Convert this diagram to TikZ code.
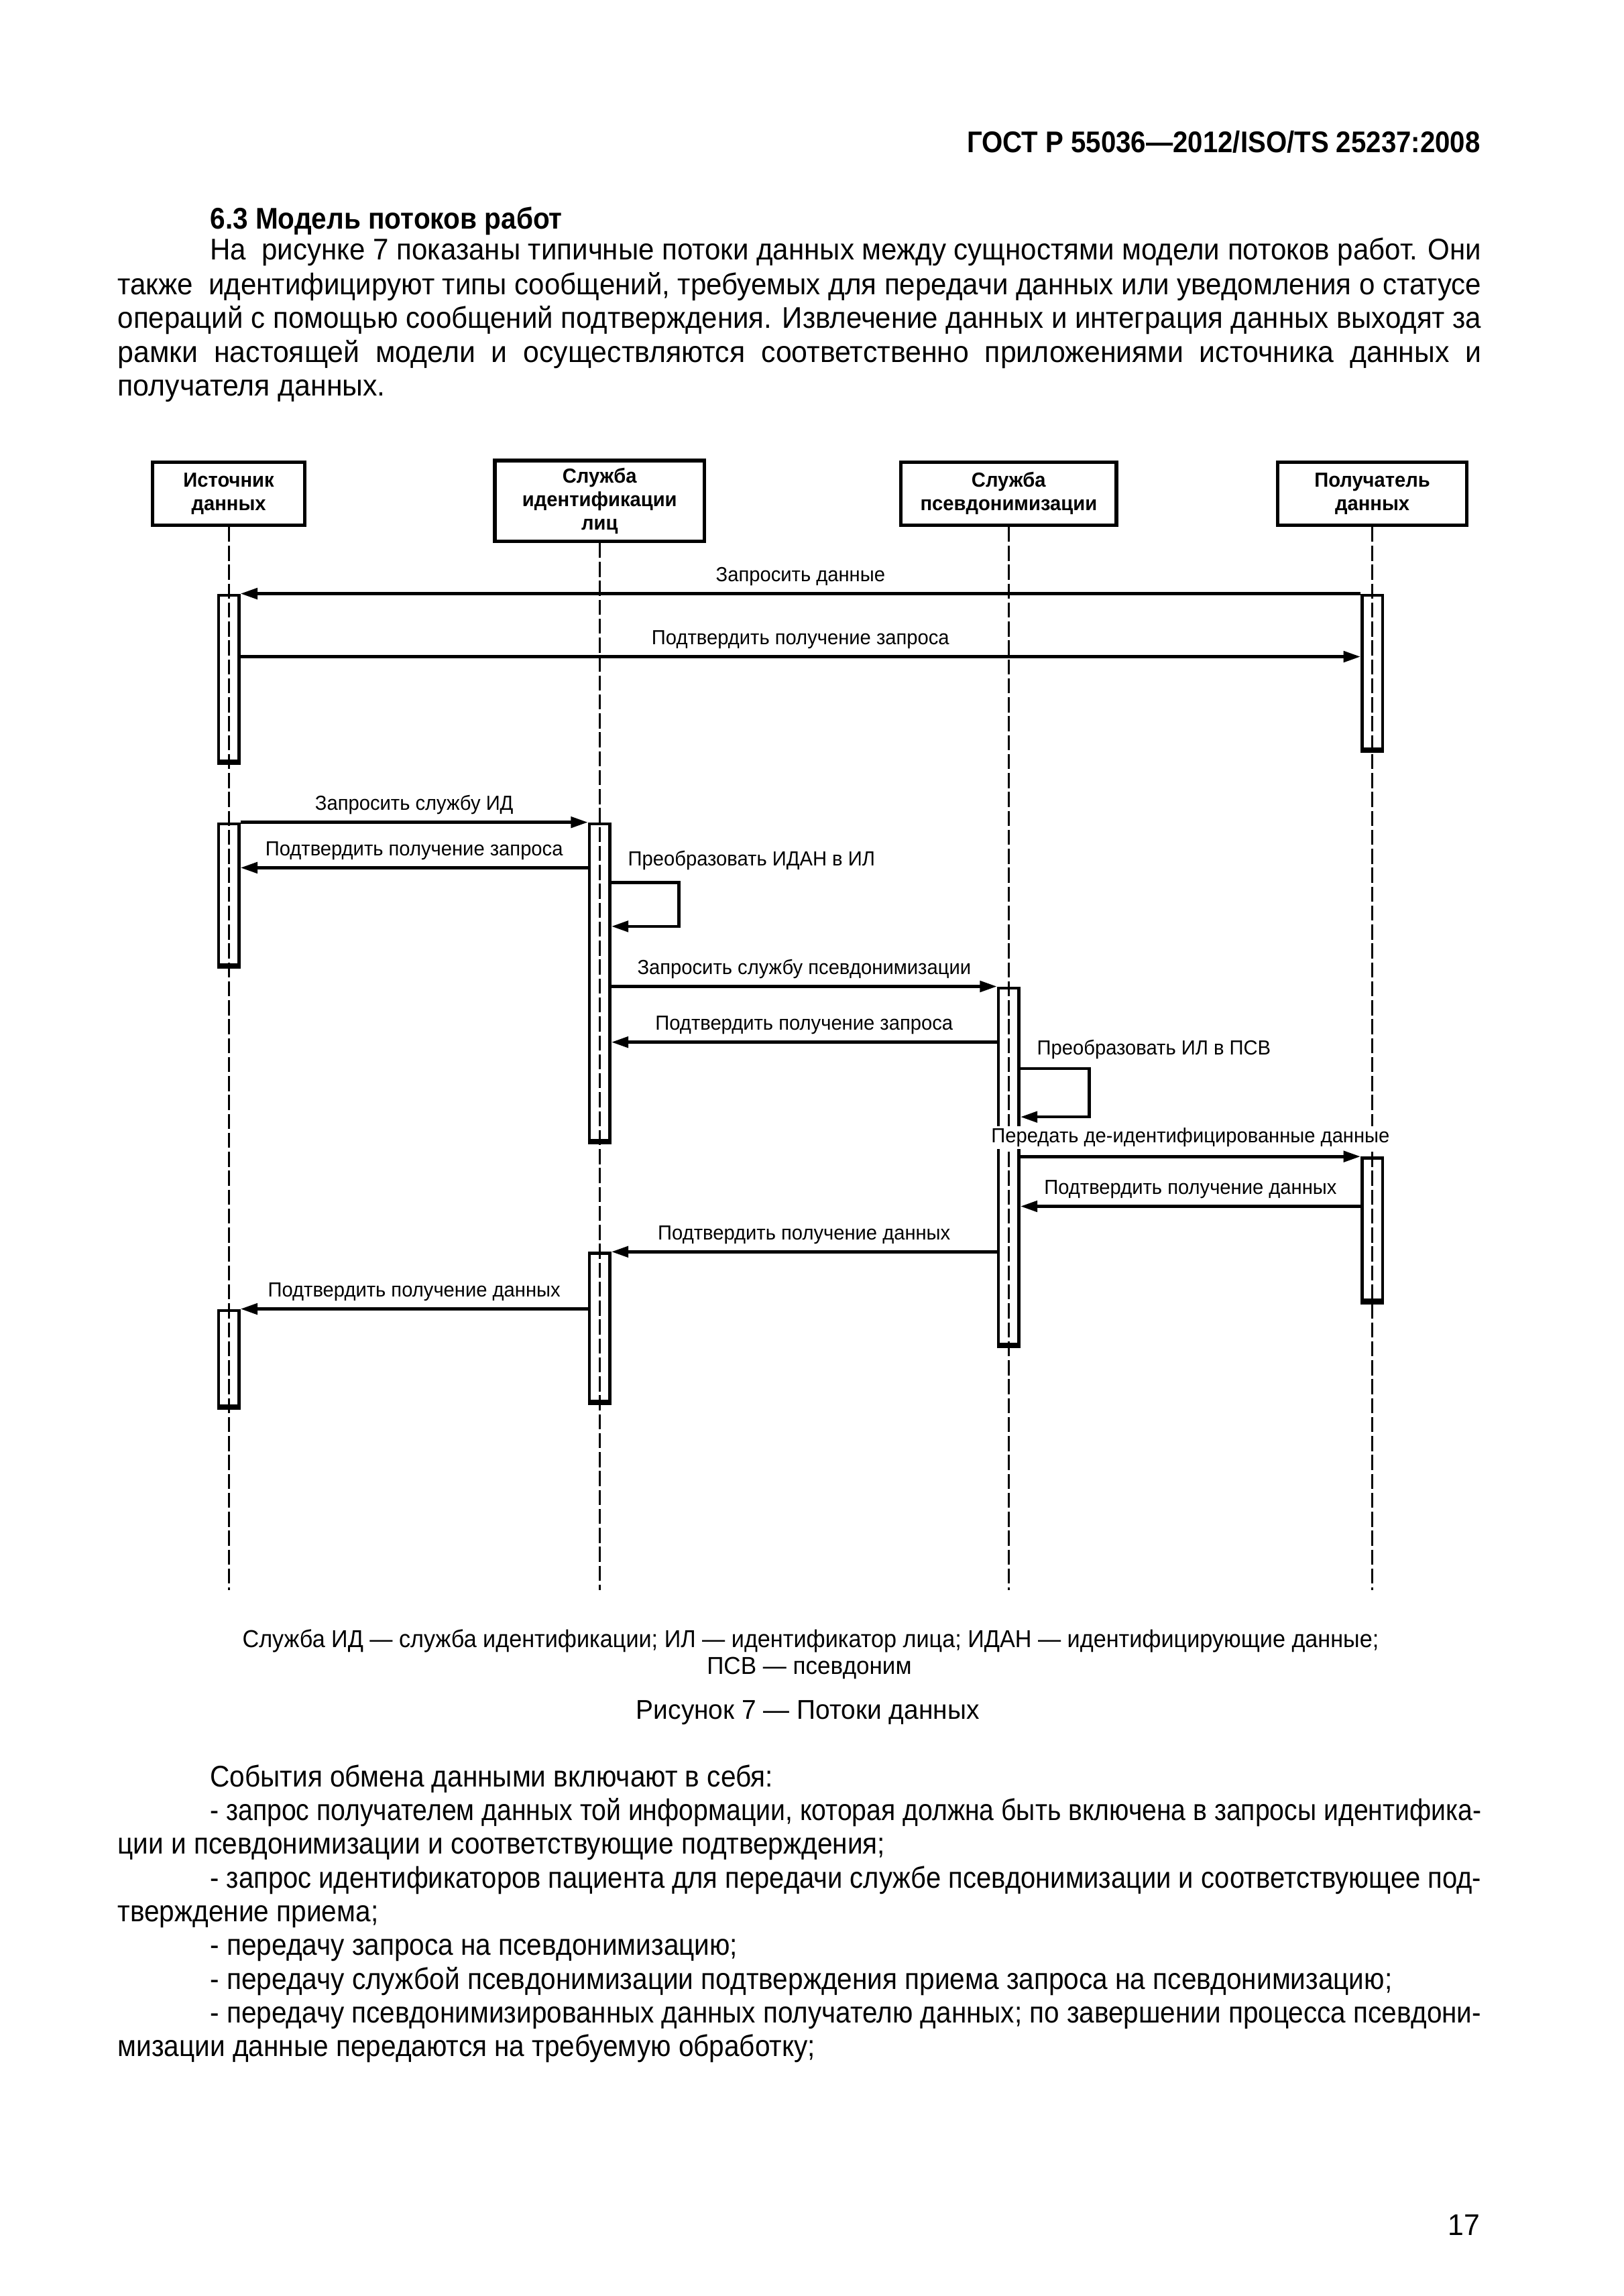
\documentclass[tikz,border=0pt]{standalone}
\usepackage{fontspec}
\setmainfont{Liberation Sans}[FakeStretch=0.96]
\newfontfamily\condfont{Liberation Sans}[FakeStretch=0.91]
\usepackage{graphicx}
\usetikzlibrary{arrows.meta,positioning}

\newlength\pxu
\setlength\pxu{0.1896mm}

% one justified line of text of a given width
\newsavebox\linebox
\newcommand\fitline[2]{%
  \sbox\linebox{#2}%
  \ifdim\wd\linebox>#1\relax
    \resizebox{#1}{\height}{\usebox\linebox}%
  \else
    \makebox[#1][s]{#2}%
  \fi}

\newcommand\diafont{\fontsize{7.5}{8.6}\selectfont}

\tikzset{
  actor/.style={draw, line width=1.3pt, align=center, inner sep=0pt,
    font=\diafont\bfseries, minimum height=43\pxu, anchor=north},
  lifeline/.style={line width=0.7pt, dash pattern=on 1.95mm off 0.5mm},
  actbar/.style={draw, line width=1.1pt, inner sep=0pt,
    minimum width=14\pxu, anchor=north},
  barcap/.style={line width=1.9pt},
  msg/.style={line width=1.15pt, -{Triangle[length=2.2mm,width=1.4mm]}},
  lbl/.style={font=\diafont, above=0.8mm, inner sep=0pt},
  looplbl/.style={font=\diafont, anchor=west, inner sep=0pt},
  bodytext/.style={font=\fontsize{11}{12.6}\selectfont, inner sep=0pt, anchor=base west},
  listtext/.style={bodytext, font=\condfont\fontsize{11}{12.6}\selectfont},
  notetext/.style={font=\fontsize{9}{11}\selectfont, inner sep=0pt, anchor=base},
}

\begin{document}
\begin{tikzpicture}[x=\pxu, y=-\pxu]
  \useasboundingbox[fill=white] (0,0) rectangle (210mm,-297mm);

  % page text above the figure
  \node[bodytext, anchor=base east, font=\fontsize{11}{12.6}\selectfont\bfseries] (head) at (1010,104)
    {\fitline{350\pxu}{ГОСТ Р 55036—2012/ISO/TS 25237:2008}};
  \node[listtext, font=\condfont\fontsize{11}{12.6}\selectfont\bfseries] (sec) at (143,156) {6.3 Модель потоков работ};
  \node[bodytext] (p1) at (143,177)
    {\fitline{867\pxu}{На\ \ рисунке 7 показаны типичные потоки данных между сущностями модели потоков работ. Они}};
  \node[bodytext] (p2) at (80,201)
    {\fitline{930\pxu}{также\ \ идентифицируют типы сообщений, требуемых для передачи данных или уведомления о статусе}};
  \node[bodytext] (p3) at (80,224)
    {\fitline{930\pxu}{операций с помощью сообщений подтверждения. Извлечение данных и интеграция данных выходят за}};
  \node[bodytext] (p4) at (80,247)
    {\fitline{930\pxu}{рамки настоящей модели и осуществляются соответственно приложениями источника данных и}};
  \node[bodytext] (p5) at (80,270) {получателя данных.};

  % actors
  \node[actor, minimum width=104\pxu] (src) at (156,314) {Источник\\данных};
  \node[actor, minimum width=143\pxu, minimum height=55\pxu] (ids) at (409,313) {Служба\\идентификации\\лиц};
  \node[actor, minimum width=147\pxu] (psv) at (688,314) {Служба\\псевдонимизации};
  \node[actor, minimum width=129\pxu] (rcv) at (936,314) {Получатель\\данных};

  % lifelines
  \coordinate (end) at (0,1085);
  \foreach \a in {src,ids,psv,rcv}
    \draw[lifeline] (\a.south) -- (\a.south |- end);

  % activation bars
  \node[actbar, minimum height=113\pxu] (b1) at (156,405) {};
  \node[actbar, minimum height=105\pxu] (b2) at (936,405) {};
  \node[actbar, minimum height=96\pxu] (b3) at (156,561) {};
  \node[actbar, minimum height=216\pxu] (b4) at (409,561) {};
  \node[actbar, minimum height=243\pxu] (b5) at (688,673) {};
  \node[actbar, minimum height=97\pxu] (b6) at (936,789) {};
  \node[actbar, minimum height=101\pxu] (b7) at (409,854) {};
  \node[actbar, minimum height=65\pxu] (b8) at (156,893) {};
  \foreach \i in {1,...,8}
    \draw[barcap] (b\i.south west) -- (b\i.south east);

  % message rows
  \coordinate (r2) at (0,448);
  \coordinate (r4) at (0,592);
  \coordinate (r6) at (0,711);
  \coordinate (r8) at (0,823);
  \coordinate (s1a) at (463,602);
  \coordinate (s1b) at (463,632);
  \coordinate (s2a) at (743,729);
  \coordinate (s2b) at (743,762);

  % messages
  \draw[msg] (b2.north west) -- node[lbl] {Запросить данные} (b1.north east);
  \draw[msg] (b1.east |- r2) -- node[lbl] {Подтвердить получение запроса} (b2.west |- r2);
  \draw[msg] (b3.north east) -- node[lbl] {Запросить службу ИД} (b4.north west);
  \draw[msg] (b4.west |- r4) -- node[lbl] {Подтвердить получение запроса} (b3.east |- r4);
  \node[looplbl] (t1) at (428,587) {Преобразовать ИДАН в ИЛ};
  \draw[msg] (b4.east |- s1a) -- (s1a) -- (s1b) -- (b4.east |- s1b);
  \draw[msg] (b4.east |- b5.north west) -- node[lbl] {Запросить службу псевдонимизации} (b5.north west);
  \draw[msg] (b5.west |- r6) -- node[lbl] {Подтвердить получение запроса} (b4.east |- r6);
  \node[looplbl] (t2) at (707,716) {Преобразовать ИЛ в ПСВ};
  \draw[msg] (b5.east |- s2a) -- (s2a) -- (s2b) -- (b5.east |- s2b);
  \draw[msg] (b5.east |- b6.north west) -- node[lbl, fill=white, inner sep=0.6pt] {Передать де-идентифицированные данные} (b6.north west);
  \draw[msg] (b6.west |- r8) -- node[lbl] {Подтвердить получение данных} (b5.east |- r8);
  \draw[msg] (b5.west |- b7.north east) -- node[lbl] {Подтвердить получение данных} (b7.north east);
  \draw[msg] (b7.west |- b8.north east) -- node[lbl] {Подтвердить получение данных} (b8.north east);

  % figure notes
  \node[notetext, anchor=base west] (n1) at (165,1124)
    {\fitline{775\pxu}{Служба ИД — служба идентификации; ИЛ — идентификатор лица; ИДАН — идентифицирующие данные;}};
  \node[notetext] (n2) at (552,1142) {ПСВ — псевдоним};
  \node[notetext, font=\fontsize{10}{12}\selectfont] (cap) at (551,1173) {Рисунок 7 — Потоки данных};

  % page text below the figure
  \node[listtext] (e0) at (143,1219) {События обмена данными включают в себя:};
  \node[listtext] (e1) at (143,1242)
    {\fitline{867\pxu}{- запрос получателем данных той информации, которая должна быть включена в запросы идентифика-}};
  \node[listtext] (e2) at (80,1265) {ции и псевдонимизации и соответствующие подтверждения;};
  \node[listtext] (e3) at (143,1288)
    {\fitline{867\pxu}{- запрос идентификаторов пациента для передачи службе псевдонимизации и соответствующее под-}};
  \node[listtext] (e4) at (80,1311) {тверждение приема;};
  \node[listtext] (e5) at (143,1334) {- передачу запроса на псевдонимизацию;};
  \node[listtext] (e6) at (143,1357) {- передачу службой псевдонимизации подтверждения приема запроса на псевдонимизацию;};
  \node[listtext] (e7) at (143,1380)
    {\fitline{867\pxu}{- передачу псевдонимизированных данных получателю данных; по завершении процесса псевдони-}};
  \node[listtext] (e8) at (80,1403) {мизации данные передаются на требуемую обработку;};
  \node[bodytext, anchor=base east] (page) at (1010,1525) {17};
\end{tikzpicture}
\end{document}
